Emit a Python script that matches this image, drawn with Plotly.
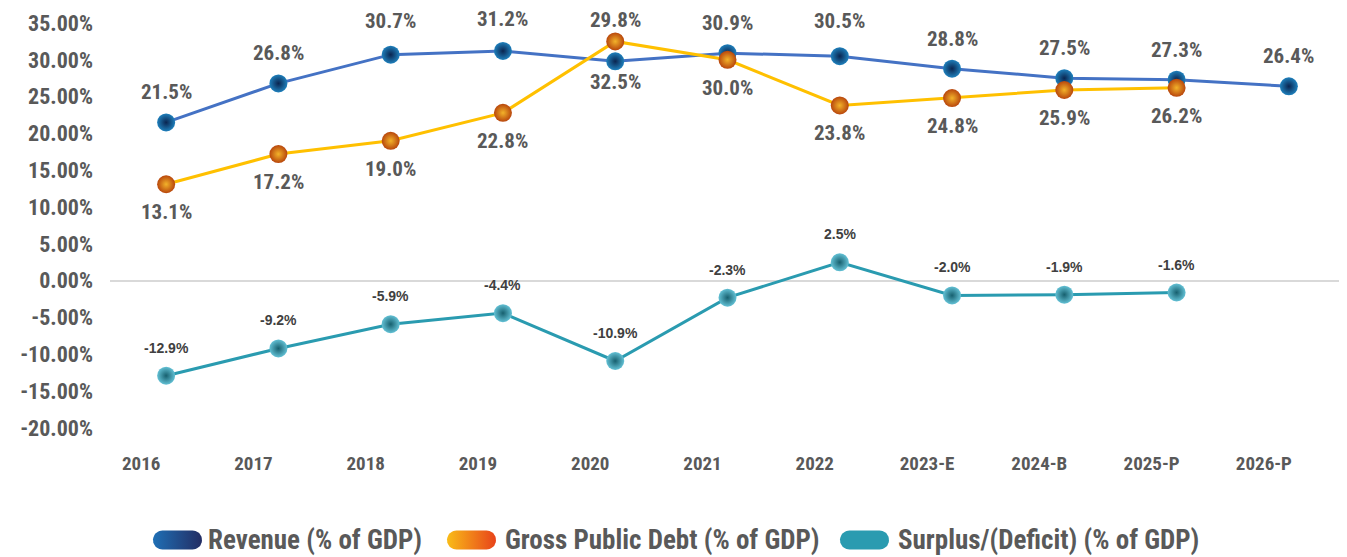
import numpy as np
import plotly.graph_objects as go

# page body has an 8px margin: draw figure so that it fills the visible window
OFF = 8
W, H = 1347 - OFF, 557 - OFF

categories = ["2016", "2017", "2018", "2019", "2020", "2021", "2022", "2023-E", "2024-B", "2025-P", "2026-P"]
revenue = [21.5, 26.8, 30.7, 31.2, 29.8, 30.9, 30.5, 28.8, 27.5, 27.3, 26.4]
debt = [13.1, 17.2, 19.0, 22.8, 32.5, 30.0, 23.8, 24.8, 25.9, 26.2, None]
surplus = [-12.9, -9.2, -5.9, -4.4, -10.9, -2.3, 2.5, -2.0, -1.9, -1.6, None]
y_ticks = [-20, -15, -10, -5, 0, 5, 10, 15, 20, 25, 30, 35]
legend_names = ["Revenue (% of GDP)", "Gross Public Debt (% of GDP)", "Surplus/(Deficit) (% of GDP)"]

# label offsets (pixels) - styling
rev_shift = {"2018": 34, "2019": 32, "2020": 41, "2022": 35}
debt_shift = {"2020": -41}

COND = "Roboto Condensed"
GREY = "#595959"


def fx(px):
    return (px - OFF) / W


def fy(py):
    return 1 - (py - OFF) / H


fig = go.Figure()

series = [
    (revenue, "#4472c4", "#1f80bc", "#0a2550"),
    (debt, "#ffc000", "#b8460c", "#f2b22a"),
    (surplus, "#2a9bb0", "#63c1d5", "#17606f"),
]
for (vals, lc, mc, gc), name in zip(series, legend_names):
    xs = [c for c, v in zip(categories, vals) if v is not None]
    ys = [v for v in vals if v is not None]
    fig.add_trace(go.Scatter(
        x=xs, y=ys, mode="lines+markers", name=name, showlegend=False,
        line=dict(color=lc, width=3),
        marker=dict(size=18, color=mc, gradient=dict(type="radial", color=gc),
                    line=dict(width=0)),
        cliponaxis=False, xaxis="x", yaxis="y",
    ))

annotations = []
for i, (c, v) in enumerate(zip(categories, revenue)):
    annotations.append(dict(x=i, y=v, xref="x", yref="y", text=f"{v:.1f}%", showarrow=False,
                            yshift=rev_shift.get(c, 30),
                            font=dict(family=COND, size=21, color=GREY, weight="bold")))
for i, (c, v) in enumerate(zip(categories, debt)):
    if v is None:
        continue
    annotations.append(dict(x=i, y=v, xref="x", yref="y", text=f"{v:.1f}%", showarrow=False,
                            yshift=debt_shift.get(c, -28),
                            font=dict(family=COND, size=21, color=GREY, weight="bold")))
for i, (c, v) in enumerate(zip(categories, surplus)):
    if v is None:
        continue
    annotations.append(dict(x=i, y=v, xref="x", yref="y", text=f"{v:.1f}%", showarrow=False,
                            yshift=28,
                            font=dict(family="Liberation Sans", size=14, color="#404040", weight="bold")))


# custom legend: gradient pills + text (window pixel coordinates)
def pill(x0, x1, yc, h):
    r = h / 2
    t1 = np.linspace(np.pi / 2, 3 * np.pi / 2, 20)
    t2 = np.linspace(-np.pi / 2, np.pi / 2, 20)
    xs = np.concatenate([x0 + r + r * np.cos(t1), x1 - r + r * np.cos(t2)])
    ys = np.concatenate([yc - r * np.sin(t1), yc - r * np.sin(t2)])
    return list(xs) + [xs[0]], list(ys) + [ys[0]]


legend_items = [
    (153, 202, 206, [[0, "#1f6fb5"], [1, "#232d63"]]),
    (447, 496, 503, [[0, "#f9bc18"], [1, "#e8431a"]]),
    (840, 889, 896, [[0, "#2a9bb0"], [1, "#2a9bb0"]]),
]
LEG_Y = 540
for (px0, px1, tx, cs), name in zip(legend_items, legend_names):
    xs, ys = pill(px0, px1, LEG_Y, 19)
    fig.add_trace(go.Scatter(
        x=xs, y=ys, mode="lines", fill="toself", line=dict(width=0),
        fillgradient=dict(type="horizontal", colorscale=cs),
        showlegend=False, hoverinfo="skip", xaxis="x2", yaxis="y2",
    ))
    annotations.append(dict(x=tx, y=LEG_Y, xref="x2", yref="y2", text=name, showarrow=False,
                            xanchor="left", yanchor="middle",
                            font=dict(family=COND, size=27, color=GREY, weight="bold")))

fig.update_layout(
    width=W, height=H,
    margin=dict(l=0, r=0, t=0, b=0, autoexpand=False),
    paper_bgcolor="white", plot_bgcolor="rgba(0,0,0,0)",
    showlegend=False,
    xaxis=dict(
        type="category", categoryorder="array", categoryarray=categories,
        range=[-0.5, len(categories) - 0.5],
        domain=[fx(110), fx(1345)],
        showgrid=False, showline=False, zeroline=False, ticks="",
        ticklabelshift=-25, ticklabelstandoff=22, automargin=False,
        tickfont=dict(family=COND, size=19, color=GREY, weight="bold"),
        anchor="y",
    ),
    yaxis=dict(
        range=[-20, 35], tickvals=y_ticks, ticktext=[f"{t:.2f}%" for t in y_ticks],
        domain=[fy(428), fy(23)],
        showgrid=False, showline=False, ticks="",
        zeroline=True, zerolinecolor="#d9d9d9", zerolinewidth=2,
        ticklabelstandoff=16, automargin=False,
        tickfont=dict(family=COND, size=22, color=GREY, weight="bold"),
        anchor="x",
    ),
    xaxis2=dict(domain=[0, 1], range=[OFF, OFF + W], visible=False, anchor="y2",
                fixedrange=True, automargin=False),
    yaxis2=dict(domain=[0, 1], range=[OFF + H, OFF], visible=False, anchor="x2",
                fixedrange=True, automargin=False),
    annotations=annotations,
)

fig.write_html("out.html")
